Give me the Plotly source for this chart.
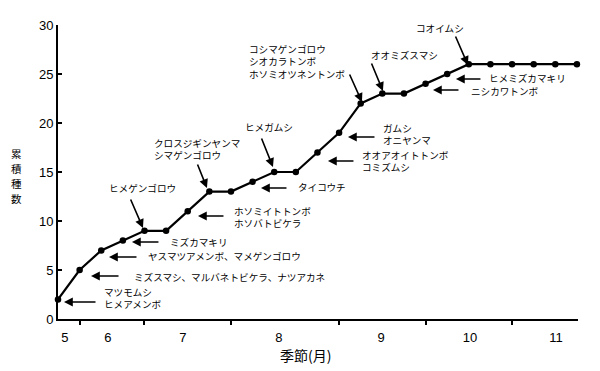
import plotly.graph_objects as go

# ---- data ----
cumulative = [2, 5, 7, 8, 9, 9, 11, 13, 13, 14, 15, 15, 17, 19, 22, 23, 23, 24, 25, 26, 26, 26, 26, 26, 26]
survey_index = list(range(len(cumulative)))
month_labels = ["5", "6", "7", "8", "9", "10", "11"]
month_label_pos = [0.32, 2.31, 5.78, 10.22, 14.94, 19.05, 23.03]
tick_mark_pos = [1, 4, 8, 13, 17, 21]
y_ticks = [0, 5, 10, 15, 20, 25, 30]

# labels: point index, head offset, tail offset, text offset (pixels, screen y down), anchor, text
notes = [
    (0, (6, 2.6), (39, 2.6), (45, -1), "left", "マツモムシ<br>ヒメアメンボ"),
    (1, (11.4, 6), (40.4, 6), (53.4, 7), "left", "ミズスマシ、マルバネトビケラ、ナツアカネ"),
    (2, (7.75, 6.6), (36.75, 6.6), (45.75, 5.4), "left", "ヤスマツアメンボ、マメゲンゴロウ"),
    (3, (9.1, 1.4), (37.1, 1.4), (46.1, 1.6), "left", "ミズカマキリ"),
    (4, (-1.5, -2.8), (-14.5, -32.8), (-1.5, -42.8), "center", "ヒメゲンゴロウ"),
    (6, (10.25, 4.8), (37.25, 4.8), (45.25, 5.8), "left", "ホソミイトトンボ<br>ホソバトビケラ"),
    (7, (-2.4, -3.6), (-12.4, -28.6), (-56.4, -43.1), "left", "クロスジギンヤンマ<br>シマゲンゴロウ"),
    (9, (8.4, 6.2), (35.4, 6.2), (44.4, 5.2), "left", "タイコウチ"),
    (10, (-1.25, -5), (-13.25, -35), (-4.75, -45), "center", "ヒメガムシ"),
    (12, (10.5, 8.6), (37.5, 8.6), (43.5, 8.1), "left", "オオアオイトトンボ<br>コミズムシ"),
    (13, (8.9, 4.2), (36.9, 4.2), (42.9, 1.2), "left", "ガムシ<br>オニヤンマ"),
    (14, (1.25, -1.4), (-11.75, -30.4), (-112.75, -42.4), "left", "コシマゲンゴロウ<br>シオカラトンボ<br>ホソミオツネントンボ"),
    (15, (0.6, -2.6), (-11.4, -31.6), (-12.4, -38.6), "left", "オオミズスマシ"),
    (17, (7.4, 6.2), (34.4, 6.2), (44.4, 7.0), "left", "ニシカワトンボ"),
    (18, (8.75, 5), (34.75, 5), (40.75, 4.2), "left", "ヒメミズカマキリ"),
    (19, (-0.9, 0.8), (-13.9, -29.2), (-28.9, -36.2), "center", "コオイムシ"),
]
y_title_chars = ["累", "積", "種", "数"]

JP = "Noto Sans CJK JP"
NUM = "Liberation Sans, Arial, sans-serif"

fig = go.Figure()
fig.add_trace(go.Scatter(
    x=survey_index, y=cumulative, mode="lines+markers",
    line=dict(color="black", width=2.2),
    marker=dict(color="black", size=6.5),
    cliponaxis=False, showlegend=False,
))

annotations = []
for i, head, tail, txt, anchor, text in notes:
    annotations.append(dict(
        x=survey_index[i], y=cumulative[i], xref="x", yref="y",
        xshift=head[0], yshift=-head[1],
        ax=tail[0] - head[0], ay=tail[1] - head[1], axref="pixel", ayref="pixel",
        text="", showarrow=True, arrowhead=2, arrowsize=1.1, arrowwidth=1.6,
        arrowcolor="black",
    ))
    annotations.append(dict(
        x=survey_index[i], y=cumulative[i], xref="x", yref="y",
        xshift=txt[0], yshift=-txt[1],
        text=text, showarrow=False, xanchor=anchor, yanchor="middle",
        align="left", borderpad=0, font=dict(family=JP, size=9.6, color="black"),
    ))

# axis titles
annotations.append(dict(
    x=305, y=371 - 355, xref="paper", yref="paper", text="季節(月)", showarrow=False,
    font=dict(family=JP, size=14, color="black"), xanchor="center", yanchor="middle",
))
for k, ch in enumerate(y_title_chars):
    annotations.append(dict(
        x=16, y=371 - (153 + k * 15.3), xref="paper", yref="paper", text=ch,
        showarrow=False, borderpad=0, font=dict(family=JP, size=10.5, color="black"),
        xanchor="center", yanchor="middle",
    ))

# convert paper-pixel annotations to paper fractions
W, H = 600, 371
ML, MR, MT, MB = 58, 22, 25, 52
PW, PH = W - ML - MR, H - MT - MB
for a in annotations:
    if a.get("xref") == "paper":
        a["x"] = (a["x"] - ML) / PW
        a["y"] = (a["y"] - MB) / PH

fig.update_layout(
    width=W, height=H,
    margin=dict(l=ML, r=MR, t=MT, b=MB),
    paper_bgcolor="white", plot_bgcolor="white",
    annotations=annotations,
    xaxis=dict(
        range=[0, 24.05], showgrid=False, zeroline=False,
        showline=True, linecolor="black", linewidth=2,
        tickvals=month_label_pos, ticktext=month_labels,
        ticks="outside", ticklen=5, tickcolor="rgba(0,0,0,0)",
        tickfont=dict(family=NUM, size=13, color="black"),
        minor=dict(tickvals=tick_mark_pos, ticks="outside", ticklen=4,
                   tickwidth=2, tickcolor="black", showgrid=False),
    ),
    yaxis=dict(
        range=[0, 30], showgrid=False, zeroline=False,
        showline=True, linecolor="black", linewidth=2,
        tickvals=y_ticks, ticks="inside", ticklen=4, tickwidth=1.5, tickcolor="black",
        tickfont=dict(family=NUM, size=13, color="black"),
    ),
)

fig.write_html("out.html")
